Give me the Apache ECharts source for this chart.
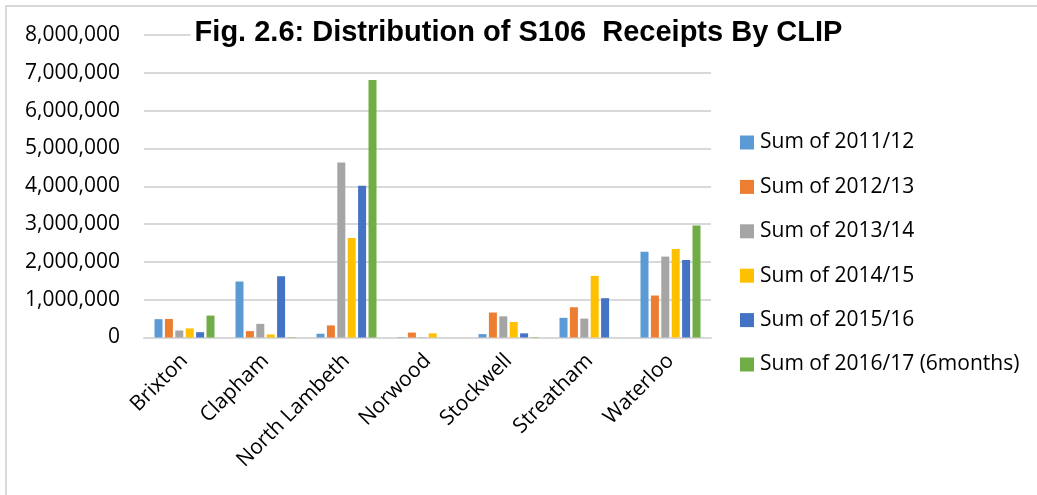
<!DOCTYPE html>
<html><head><meta charset="utf-8">
<script src="https://cdn.jsdelivr.net/npm/echarts@6/dist/echarts.min.js"></script>
<style>html,body{margin:0;padding:0;background:#fff}#c{width:1037px;height:495px}</style>
</head><body><div id="c"></div>
<script>
const categories = ["Brixton","Clapham","North Lambeth","Norwood","Stockwell","Streatham","Waterloo"];
const seriesNames = ["Sum of 2011/12","Sum of 2012/13","Sum of 2013/14","Sum of 2014/15","Sum of 2015/16","Sum of 2016/17 (6months)"];
const s2011 = [485000,1480000,100000,10000,90000,520000,2270000];
const s2012 = [490000,170000,320000,130000,660000,800000,1110000];
const s2013 = [185000,360000,4630000,10000,560000,500000,2140000];
const s2014 = [240000,80000,2630000,110000,410000,1630000,2340000];
const s2015 = [140000,1620000,4010000,0,110000,1040000,2050000];
const s2016 = [580000,10000,6810000,0,10000,0,2960000];
const colors = ["#5b9bd5","#ed7d31","#a5a5a5","#ffc000","#4472c4","#70ad47"];
const allSeries = [s2011,s2012,s2013,s2014,s2015,s2016];
const font = "'Open Sans', 'Liberation Sans', sans-serif";
const chart = echarts.init(document.getElementById('c'));
chart.setOption({
  animation:false,
  graphic:[{type:'rect',shape:{x:6,y:6,width:1040,height:500},style:{fill:'none',stroke:'#d9d9d9',lineWidth:2},z:-10}],
  title:{text:"Fig. 2.6: Distribution of S106  Receipts By CLIP",left:'center',top:16,padding:[2,4],
    backgroundColor:'#fff',
    textStyle:{fontFamily:"'Liberation Sans', Arial, sans-serif",fontWeight:'bold',fontSize:29,color:'#000'}},
  legend:{orient:'vertical',left:740,top:132,padding:0,itemWidth:14,itemHeight:14,itemGap:23.4,
    icon:'rect',textStyle:{fontFamily:font,fontSize:21,color:'#000',padding:[0,0,0,1]},
    data:seriesNames},
  grid:{left:144,right:326,top:35,bottom:157.5},
  xAxis:{type:'category',data:categories,
    axisLine:{lineStyle:{color:'#d9d9d9',width:2}},axisTick:{show:false},
    axisLabel:{rotate:45,color:'#000',fontFamily:font,fontSize:21,margin:20,interval:0}},
  yAxis:{type:'value',min:0,max:8000000,interval:1000000,
    axisLine:{show:false},axisTick:{show:false},
    splitLine:{lineStyle:{color:'#d9d9d9',width:2}},
    axisLabel:{color:'#000',fontFamily:font,fontSize:21,margin:24,
      formatter:v=>v.toLocaleString('en-US')}},
  series: seriesNames.map((n,i)=>({name:n,type:'bar',data:allSeries[i],
    itemStyle:{color:colors[i]},barWidth:8,barGap:'30%',z:3}))
});
</script></body></html>
